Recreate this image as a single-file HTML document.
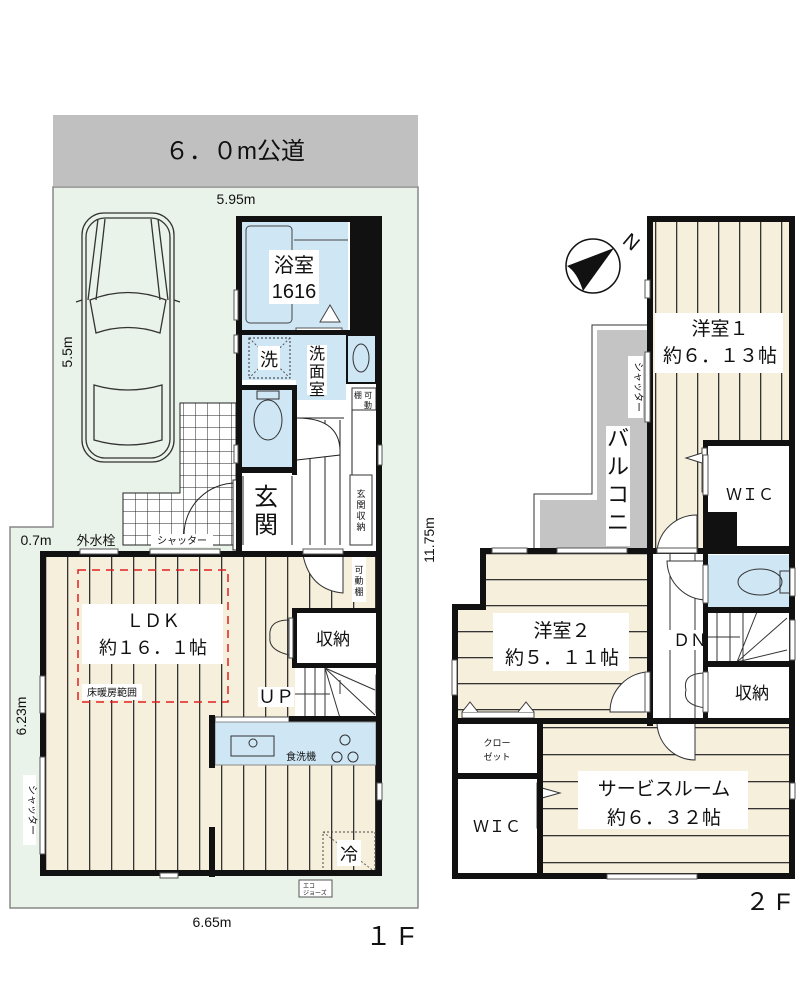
<!DOCTYPE html>
<html><head><meta charset="utf-8"><style>
html,body{margin:0;padding:0;background:#fff}
svg{display:block}
text{font-family:"Liberation Sans","Noto Sans CJK JP",sans-serif;fill:#111}
</style></head><body>
<svg width="800" height="1000" viewBox="0 0 800 1000" xmlns="http://www.w3.org/2000/svg">
<defs>
<pattern id="vl" x="45" y="0" width="22" height="10" patternUnits="userSpaceOnUse"><rect width="22" height="10" fill="#f6efdc"/><rect x="0" width="1.3" height="10" fill="#333"/></pattern>
<pattern id="vl2" x="655" y="0" width="21" height="10" patternUnits="userSpaceOnUse"><rect width="21" height="10" fill="#f6efdc"/><rect x="0" width="1.3" height="10" fill="#333"/></pattern>
<pattern id="hl" x="0" y="553" width="10" height="26" patternUnits="userSpaceOnUse"><rect width="10" height="26" fill="#f6efdc"/><rect y="0" width="10" height="1.3" fill="#333"/></pattern>
<pattern id="hl2" x="0" y="727" width="10" height="27" patternUnits="userSpaceOnUse"><rect width="10" height="27" fill="#f6efdc"/><rect y="0" width="10" height="1.3" fill="#333"/></pattern>
<pattern id="tile" x="123" y="403" width="12" height="12" patternUnits="userSpaceOnUse"><rect width="12" height="12" fill="#fff"/><path d="M0 0H12M0 0V12" stroke="#222" stroke-width="1"/></pattern>
</defs>

<!-- road -->
<rect x="53" y="115" width="365" height="71" fill="#c0c0c0"/>
<text x="235" y="159" font-size="24" text-anchor="middle">６．０m公道</text>
<!-- lot -->
<path d="M53 187H418V908H10V527H53Z" fill="#eaf3ea" stroke="#888" stroke-width="1.5"/>
<text x="236" y="204" font-size="14" text-anchor="middle">5.95m</text>
<text x="72" y="352" font-size="14" text-anchor="middle" transform="rotate(-90 72 352)">5.5m</text>
<text x="36" y="545" font-size="14" text-anchor="middle">0.7m</text>
<text x="96" y="545" font-size="13" text-anchor="middle">外水栓</text>
<text x="434" y="540" font-size="14" text-anchor="middle" transform="rotate(-90 434 540)">11.75m</text>
<text x="26" y="716" font-size="14" text-anchor="middle" transform="rotate(-90 26 716)">6.23m</text>
<text x="212" y="927" font-size="14" text-anchor="middle">6.65m</text>
<text x="390" y="945" font-size="26" text-anchor="middle">１ F</text>

<!-- car -->
<g fill="none" stroke="#333" stroke-width="1.3">
<rect x="82" y="213" width="92" height="249" rx="22"/>
<rect x="86" y="218" width="84" height="240" rx="19"/>
<path d="M90 300Q128 285 166 300L160 333Q128 322 96 333Z"/>
<path d="M94 385Q128 395 162 385L162 440Q128 450 94 440Z"/>
<path d="M98 219L88 300M158 219L168 300M105 219L96 300M151 219L160 300"/>
<path d="M82 300L76 302M174 300L180 302"/>
</g>

<!-- tiles -->
<path d="M180 403H236V545H123V493H180Z" fill="url(#tile)" stroke="#222"/>

<!-- 1F upper block -->
<rect x="236" y="216" width="146" height="335" fill="#fff"/>
<rect x="350" y="216" width="32" height="117" fill="#111"/>
<rect x="242" y="222" width="106" height="108" fill="#cfe6f5"/>
<rect x="246" y="226" width="46" height="97" rx="4" fill="none" stroke="#444"/>
<path d="M294 240H348" stroke="#444"/>
<path d="M320 322L330 305L340 322Z" fill="#fff" stroke="#444"/>
<rect x="296" y="328" width="46" height="5" fill="#fff" stroke="#555"/>
<rect x="269" y="250" width="50" height="54" fill="#fff"/>
<text x="294" y="272" font-size="20" text-anchor="middle">浴室</text>
<text x="294" y="298" font-size="20" text-anchor="middle">1616</text>
<rect x="236" y="330" width="146" height="5" fill="#111"/>
<rect x="241" y="335" width="135" height="45" fill="#cfe6f5"/>
<rect x="296" y="380" width="50" height="20" fill="#cfe6f5"/>
<rect x="249" y="338" width="41" height="40" fill="none" stroke="#333" stroke-dasharray="2 2"/>
<path d="M249 338L290 378M290 338L249 378" stroke="#555" stroke-dasharray="2 2"/>
<rect x="258" y="346" width="22" height="24" fill="#fff"/>
<text x="269" y="366" font-size="18" text-anchor="middle">洗</text>
<rect x="307" y="345" width="20" height="50" fill="#fff"/>
<text x="317" y="359" font-size="16" text-anchor="middle">洗</text>
<text x="317" y="377" font-size="16" text-anchor="middle">面</text>
<text x="317" y="395" font-size="16" text-anchor="middle">室</text>
<rect x="347" y="335" width="29" height="48" fill="#cfe6f5" stroke="#111" stroke-width="2"/>
<ellipse cx="361" cy="358" rx="8" ry="14" fill="none" stroke="#333"/>
<rect x="352" y="388" width="24" height="22" fill="#fff" stroke="#333"/>
<text x="363" y="398" font-size="8" text-anchor="middle">棚 可</text>
<text x="368" y="408" font-size="8" text-anchor="middle">動</text>
<!-- toilet -->
<rect x="236" y="385" width="60" height="5" fill="#111"/>
<rect x="241" y="390" width="51" height="77" fill="#cfe6f5"/>
<rect x="292" y="385" width="5" height="90" fill="#111"/>
<rect x="236" y="467" width="60" height="6" fill="#111"/>
<ellipse cx="268" cy="420" rx="14" ry="20" fill="none" stroke="#333"/>
<rect x="257" y="391" width="22" height="8" fill="none" stroke="#333"/>
<!-- entrance -->
<path d="M243 476V545M292 476V545" stroke="#222"/>
<text x="266" y="505" font-size="24" text-anchor="middle">玄</text>
<text x="266" y="533" font-size="24" text-anchor="middle">関</text>
<!-- stairs -->
<path d="M310 420V545M325 420V545M340 420V545M352 410V545" stroke="#222"/>
<path d="M297 418H344M297 418Q342 418 340 455L297 460" fill="#fff" stroke="#222"/>
<rect x="350" y="475" width="22" height="70" fill="#fff" stroke="#333"/>
<text x="361" y="497" font-size="9" text-anchor="middle">玄</text>
<text x="361" y="508" font-size="9" text-anchor="middle">関</text>
<text x="361" y="519" font-size="9" text-anchor="middle">収</text>
<text x="361" y="530" font-size="9" text-anchor="middle">納</text>
<!-- door arc entrance -->
<path d="M236 483A52 52 0 0 0 184 535" fill="none" stroke="#222"/>
<rect x="233" y="480" width="4" height="70" fill="#fff" stroke="#333"/>
<!-- upper walls -->
<rect x="236" y="216" width="6" height="335" fill="#111"/>
<rect x="236" y="216" width="146" height="6" fill="#111"/>
<rect x="376" y="216" width="6" height="335" fill="#111"/>
<rect x="234" y="290" width="4" height="30" fill="#fff" stroke="#555"/>
<rect x="234" y="335" width="4" height="18" fill="#fff" stroke="#555"/>
<rect x="234" y="445" width="4" height="18" fill="#fff" stroke="#555"/>
<rect x="378" y="445" width="4" height="20" fill="#fff" stroke="#555"/>

<!-- LDK -->
<rect x="40" y="551" width="342" height="325" fill="url(#vl)"/>
<rect x="78" y="570" width="150" height="132" fill="none" stroke="#e02020" stroke-width="1.5" stroke-dasharray="8 6"/>
<rect x="82" y="604" width="141" height="60" fill="#fff"/>
<text x="153" y="627" font-size="18" text-anchor="middle">ＬＤＫ</text>
<text x="153" y="654" font-size="18" text-anchor="middle">約１６．１帖</text>
<rect x="82" y="684" width="60" height="16" fill="#fff"/>
<text x="112" y="696" font-size="10" text-anchor="middle">床暖房範囲</text>
<!-- storage -->
<rect x="292" y="608" width="90" height="60" fill="#111"/>
<rect x="297" y="613" width="79" height="50" fill="#fff"/>
<text x="333" y="645" font-size="17" text-anchor="middle">収納</text>
<rect x="289" y="618" width="4" height="40" fill="#fff" stroke="#444"/>
<path d="M289 620Q268 620 270 637Q268 650 289 655" fill="none" stroke="#333"/>
<rect x="352" y="557" width="14" height="45" fill="#fff"/>
<text x="359" y="573" font-size="9" text-anchor="middle">可</text>
<text x="359" y="584" font-size="9" text-anchor="middle">動</text>
<text x="359" y="595" font-size="9" text-anchor="middle">棚</text>
<path d="M343 555V593Q310 590 303 555" fill="#fff" stroke="#333"/>
<!-- stairs up -->
<rect x="295" y="668" width="81" height="50" fill="#fff"/>
<path d="M305 668V718M315 668V718M325 668V718M295 694H330M325 668L340 718M325 668L375 715M325 668L375 690M340 680V694" stroke="#333" fill="none"/>
<rect x="258" y="687" width="36" height="20" fill="#fff"/>
<text x="276" y="703" font-size="18" text-anchor="middle">ＵＰ</text>
<rect x="376" y="675" width="5" height="38" fill="#fff" stroke="#444"/>
<!-- kitchen -->
<rect x="215" y="717" width="74" height="5" fill="#fff" stroke="#444"/>
<rect x="289" y="716" width="93" height="6" fill="#111"/>
<rect x="215" y="722" width="161" height="43" fill="#cfe6f5" stroke="#888"/>
<rect x="231" y="736" width="43" height="20" fill="none" stroke="#333"/>
<circle cx="253" cy="743" r="4" fill="none" stroke="#333"/>
<text x="301" y="760" font-size="10" text-anchor="middle">食洗機</text>
<g fill="none" stroke="#333"><circle cx="345" cy="740" r="5"/><circle cx="337" cy="757" r="5"/><circle cx="353" cy="757" r="5"/></g>
<rect x="209" y="715" width="6" height="53" fill="#111"/>
<rect x="209" y="827" width="6" height="50" fill="#111"/>
<rect x="323" y="832" width="52" height="40" fill="none" stroke="#444" stroke-dasharray="2 2"/>
<path d="M323 832L375 872" stroke="#666" stroke-dasharray="2 2"/>
<rect x="337" y="840" width="24" height="26" fill="#fff"/>
<text x="349" y="861" font-size="18" text-anchor="middle">冷</text>
<!-- LDK walls -->
<path d="M43 554H379V873H43Z" fill="none" stroke="#111" stroke-width="6"/>
<rect x="80" y="549" width="38" height="5" fill="#fff" stroke="#555"/>
<rect x="150" y="549" width="70" height="5" fill="#fff" stroke="#555"/>
<rect x="151" y="534" width="62" height="13" fill="#fff"/>
<text x="182" y="544" font-size="10" text-anchor="middle">シャッター</text>
<rect x="303" y="549" width="40" height="5" fill="#fff" stroke="#555"/>
<rect x="40" y="676" width="5" height="37" fill="#fff" stroke="#555"/>
<rect x="40" y="757" width="5" height="97" fill="#fff" stroke="#555"/>
<rect x="23" y="775" width="13" height="70" fill="#fff"/>
<text x="29" y="810" font-size="10" text-anchor="middle" transform="rotate(90 29 810)">シャッター</text>
<rect x="377" y="783" width="5" height="17" fill="#fff" stroke="#555"/>
<rect x="160" y="873" width="18" height="5" fill="#fff" stroke="#555"/>
<rect x="299" y="880" width="33" height="17" fill="#fff" stroke="#555"/>
<text x="303" y="888" font-size="6">エコ</text>
<text x="303" y="895" font-size="6">ジョーズ</text>

<!-- 2F -->
<circle cx="593" cy="266" r="27" fill="#fff" stroke="#111" stroke-width="1.5"/>
<path d="M567 266L614 248L583 291Q577 272 567 266Z" fill="#111"/>
<text x="627" y="247" font-size="20" text-anchor="middle" transform="rotate(40 627 247)">N</text>
<!-- balcony -->
<path d="M592 325H650V551H534V494H592Z" fill="#fff" stroke="#333"/>
<path d="M597 330H650V551H540V500H597Z" fill="#c4c4c4"/>
<rect x="606" y="426" width="24" height="120" fill="#fff"/>
<text x="618" y="446" font-size="22" text-anchor="middle">バ</text>
<text x="618" y="474" font-size="22" text-anchor="middle">ル</text>
<text x="618" y="502" font-size="22" text-anchor="middle">コ</text>
<text x="618" y="530" font-size="22" text-anchor="middle">ニ</text>
<rect x="628" y="356" width="15" height="62" fill="#fff"/>
<text x="635" y="387" font-size="10" text-anchor="middle" transform="rotate(90 635 387)">シャッター</text>
<!-- 洋室1 -->
<rect x="650" y="216" width="142" height="334" fill="url(#vl2)"/>
<rect x="655" y="313" width="128" height="60" fill="#fff"/>
<text x="720" y="335" font-size="19" text-anchor="middle">洋室１</text>
<text x="720" y="362" font-size="19" text-anchor="middle">約６．１３帖</text>
<!-- WIC1 -->
<rect x="703" y="440" width="92" height="112" fill="#111"/>
<rect x="708" y="446" width="84" height="100" fill="#fff"/>
<rect x="707" y="512" width="30" height="38" fill="#111"/>
<rect x="707" y="516" width="22" height="32" fill="#111"/>
<rect x="702" y="448" width="5" height="44" fill="#fff" stroke="#444"/>
<path d="M702 453L686 458L702 463" fill="#fff" stroke="#333"/>
<text x="750" y="500" font-size="16" text-anchor="middle">ＷＩＣ</text>
<!-- hall -->
<rect x="652" y="550" width="55" height="170" fill="#fff"/>
<path d="M670 550V718M695 550V718" stroke="#333"/>
<path d="M697 515A40 40 0 0 0 657 551H697Z" fill="#fff" stroke="#333"/>
<path d="M667 561A40 40 0 0 0 707 600V561Z" fill="#fff" stroke="#333"/>
<rect x="667" y="630" width="40" height="20" fill="#fff"/>
<text x="690" y="646" font-size="17" text-anchor="middle">ＤＮ</text>
<!-- 2F toilet -->
<rect x="707" y="555" width="85" height="54" fill="#cfe6f5"/>
<ellipse cx="760" cy="582" rx="22" ry="13" fill="none" stroke="#333"/>
<rect x="780" y="571" width="11" height="22" fill="none" stroke="#333"/>
<!-- 2F stairs -->
<rect x="707" y="612" width="85" height="50" fill="#fff"/>
<path d="M717 612V662M730 612V662M743 612V662M707 637H740M737 662L757 612M737 662L787 618M737 662L787 650" stroke="#333" fill="none"/>
<!-- 収納2F -->
<rect x="707" y="666" width="85" height="52" fill="#fff"/>
<text x="752" y="699" font-size="17" text-anchor="middle">収納</text>
<path d="M706 673Q682 673 686 690Q682 705 706 708" fill="none" stroke="#333"/>
<!-- 洋室2 -->
<path d="M483 553H650V718H452V607H483Z" fill="url(#hl)"/>
<rect x="493" y="613" width="136" height="58" fill="#fff"/>
<text x="562" y="637" font-size="19" text-anchor="middle">洋室２</text>
<text x="562" y="664" font-size="19" text-anchor="middle">約５．１１帖</text>
<path d="M648 672A40 40 0 0 0 610 712H648Z" fill="#fff" stroke="#333"/>
<rect x="462" y="712" width="72" height="6" fill="#fff" stroke="#444"/>
<path d="M462 712L470 702L478 712M518 712L526 702L534 712" fill="#fff" stroke="#333"/>
<!-- service room -->
<rect x="542" y="723" width="250" height="153" fill="url(#hl2)"/>
<rect x="578" y="771" width="170" height="58" fill="#fff"/>
<text x="664" y="795" font-size="19" text-anchor="middle">サービスルーム</text>
<text x="664" y="824" font-size="19" text-anchor="middle">約６．３２帖</text>
<path d="M657 721A38 38 0 0 0 695 760V721Z" fill="#fff" stroke="#333"/>
<!-- closets -->
<rect x="457" y="723" width="80" height="50" fill="#fff"/>
<text x="497" y="746" font-size="9" text-anchor="middle">クロー</text>
<text x="497" y="760" font-size="9" text-anchor="middle">ゼット</text>
<rect x="457" y="778" width="80" height="98" fill="#fff"/>
<text x="497" y="832" font-size="16" text-anchor="middle">ＷＩＣ</text>
<rect x="537" y="783" width="5" height="45" fill="#fff" stroke="#444"/>
<path d="M542 788L560 793L542 798" fill="#fff" stroke="#333"/>
<!-- 2F walls -->
<g fill="#111">
<rect x="647" y="216" width="6" height="510"/>
<rect x="647" y="216" width="148" height="6"/>
<rect x="789" y="216" width="6" height="663"/>
<rect x="452" y="873" width="343" height="6"/>
<rect x="452" y="604" width="6" height="275"/>
<rect x="452" y="604" width="34" height="6"/>
<rect x="480" y="548" width="6" height="62"/>
<rect x="480" y="548" width="315" height="6"/>
<rect x="452" y="718" width="343" height="6"/>
<rect x="537" y="718" width="6" height="160"/>
<rect x="452" y="773" width="90" height="6"/>
<rect x="703" y="548" width="5" height="175"/>
<rect x="703" y="607" width="92" height="6"/>
<rect x="703" y="661" width="92" height="6"/>
</g>
<rect x="645" y="280" width="5" height="18" fill="#fff" stroke="#555"/>
<rect x="645" y="352" width="5" height="70" fill="#fff" stroke="#555"/>
<rect x="492" y="548" width="35" height="5" fill="#fff" stroke="#555"/>
<rect x="557" y="548" width="70" height="5" fill="#fff" stroke="#555"/>
<rect x="657" y="548" width="40" height="5" fill="#fff" stroke="#555"/>
<rect x="452" y="660" width="5" height="35" fill="#fff" stroke="#555"/>
<rect x="790" y="568" width="5" height="28" fill="#fff" stroke="#555"/>
<rect x="790" y="620" width="5" height="40" fill="#fff" stroke="#555"/>
<rect x="790" y="783" width="5" height="16" fill="#fff" stroke="#555"/>
<rect x="607" y="874" width="90" height="5" fill="#fff" stroke="#555"/>
<rect x="703" y="565" width="5" height="38" fill="#fff" stroke="#555"/>
<rect x="703" y="672" width="5" height="40" fill="#fff" stroke="#555"/>
<rect x="645" y="672" width="5" height="40" fill="#fff" stroke="#555"/>
<rect x="703" y="455" width="5" height="40" fill="#fff" stroke="#555"/>
<text x="768" y="910" font-size="24" text-anchor="middle">２ F</text>
</svg>
</body></html>
